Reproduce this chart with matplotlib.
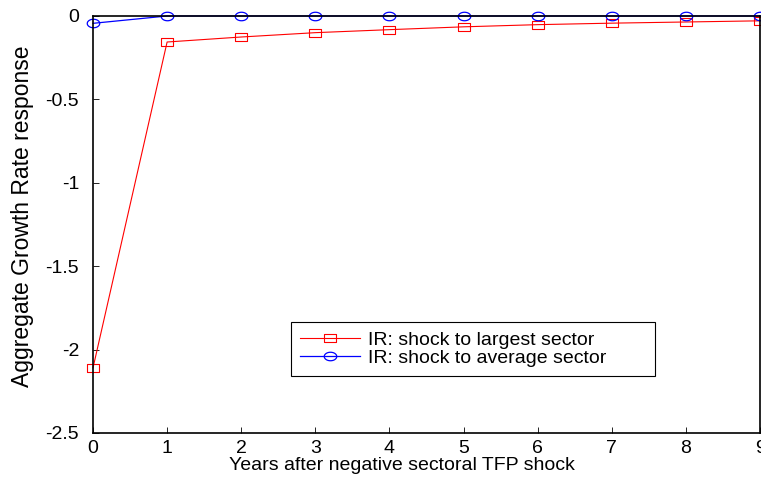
import numpy as np
import matplotlib.pyplot as plt
from matplotlib.path import Path

plt.rcParams['font.family'] = ['Liberation Sans', 'DejaVu Sans']
plt.rcParams['axes.unicode_minus'] = False

years = [0, 1, 2, 3, 4, 5, 6, 7, 8, 9]
largest = [-2.11, -0.156, -0.126, -0.10, -0.082, -0.065, -0.052, -0.043, -0.036, -0.029]
average = [-0.044, 0, 0, 0, 0, 0, 0, 0, 0, 0]
yticks = [0, -0.5, -1, -1.5, -2, -2.5]
ylabels = ['0', '-0.5', '-1', '-1.5', '-2', '-2.5']

# markers are stretched horizontally in the original
th = np.linspace(0, 2*np.pi, 50)
ellipse = Path(np.column_stack([np.cos(th), 0.68*np.sin(th)]))
rect = Path([(-1, -0.72), (1, -0.72), (1, 0.72), (-1, 0.72), (-1, -0.72)],
            [Path.MOVETO, Path.LINETO, Path.LINETO, Path.LINETO, Path.CLOSEPOLY])

fig = plt.figure(figsize=(7.61, 4.80), dpi=100)
ax = fig.add_axes([0.1222, 0.098, 0.8765, 0.8687])

ax.plot(years, largest, color='r', lw=0.8, marker=rect, ms=8.6, mfc='none',
        mec='r', mew=0.8, clip_on=False, label='IR: shock to largest sector')
ax.plot(years, average, color='b', lw=0.9, marker=ellipse, ms=9, mfc='none',
        mec='b', mew=0.9, clip_on=False, label='IR: shock to average sector')

ax.set_xlim(0, 9)
ax.set_ylim(-2.5, 0)
ax.set_xticks(years)
ax.set_yticks(yticks)
ax.set_yticklabels(ylabels)
ax.tick_params(direction='in', length=4, width=0.6, labelsize=14)
ax.tick_params(axis='y', pad=10)
ax.tick_params(axis='x', pad=5)
for s in ax.spines.values():
    s.set_linewidth(1.2)

ax.set_xlabel('Years after negative sectoral TFP shock', fontsize=14, labelpad=0)
ax.xaxis.set_label_coords(0.463, -0.058)
ax.set_ylabel('Aggregate Growth Rate response', fontsize=16.5)
ax.yaxis.set_label_coords(-0.088, 0.52)

# legend box is wider than its text, like the original
leg = ax.legend(loc='lower left', bbox_to_anchor=(0.297, 0.137, 0.546, 0.13),
                mode='expand', fontsize=14, fancybox=False, edgecolor='black',
                framealpha=1, handlelength=3.1, borderpad=0.45, labelspacing=0.05,
                handletextpad=0.4, borderaxespad=0)
leg.get_frame().set_linewidth(0.8)

fig.savefig('out.png', dpi=100)
